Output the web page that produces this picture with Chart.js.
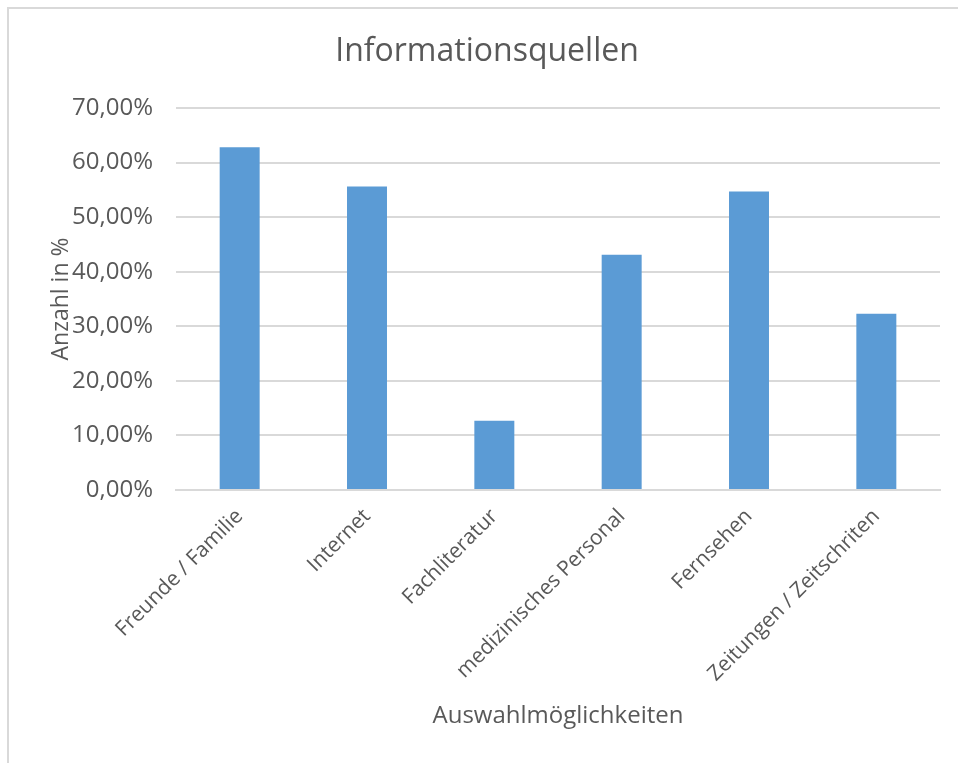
<!DOCTYPE html>
<html lang="de">
<head>
<meta charset="utf-8">
<title>Informationsquellen</title>
<script src="https://cdn.jsdelivr.net/npm/chart.js@4/dist/chart.umd.min.js"></script>
<style>
  html, body { margin: 0; padding: 0; background: #ffffff; }
  body { width: 958px; height: 763px; position: relative; overflow: hidden; }
  #frame {
    position: absolute; left: 7px; top: 7px;
    width: 949px; height: 754px;
    border-left: 2px solid #d9d9d9; border-top: 2px solid #d9d9d9;
  }
  canvas { display: block; }
</style>
</head>
<body>
<div id="frame"><canvas id="chart" width="949" height="754"></canvas></div>
<script>
// Antworten je Informationsquelle (Anteil in %)
const categories = [
  'Freunde / Familie',
  'Internet',
  'Fachliteratur',
  'medizinisches Personal',
  'Fernsehen',
  'Zeitungen / Zeitschriten'
];
const shares = [62.8, 55.6, 12.7, 43.1, 54.7, 32.3];
const yTicks = [0, 10, 20, 30, 40, 50, 60, 70];

const chartTitle = 'Informationsquellen';
const xTitle = 'Auswahlmöglichkeiten';
const yTitle = 'Anzahl in %';

const textColor = '#595959';
const gridColor = '#d9d9d9';
const barColor = '#5b9bd5';
const fontFamily = "'Open Sans', 'Noto Sans', sans-serif";

const fmtPercent = v => v.toFixed(2).replace('.', ',') + '%';

new Chart(document.getElementById('chart'), {
  type: 'bar',
  data: {
    labels: categories,
    datasets: [{
      label: yTitle,
      data: shares,
      backgroundColor: barColor,
      borderWidth: 0,
      barPercentage: 0.314,
      categoryPercentage: 1.0
    }]
  },
  options: {
    responsive: false,
    animation: false,
    layout: { padding: { left: 25, right: 18, top: 0, bottom: 32 } },
    plugins: {
      legend: { display: false },
      tooltip: { enabled: false },
      title: {
        display: true,
        text: chartTitle,
        color: textColor,
        font: { family: fontFamily, size: 32, weight: 'normal' },
        padding: { top: 24, bottom: 36.6 }
      }
    },
    scales: {
      x: {
        grid: { display: false, drawTicks: false },
        border: { display: true, color: gridColor, width: 2 },
        ticks: {
          color: textColor,
          font: { family: fontFamily, size: 21 },
          minRotation: 45,
          maxRotation: 45,
          padding: 14,
          autoSkip: false
        },
        title: {
          display: true,
          text: xTitle,
          color: textColor,
          font: { family: fontFamily, size: 24 },
          padding: 0
        },
        afterFit: s => { s.height = 241; }
      },
      y: {
        min: 0,
        max: 70,
        afterBuildTicks: s => { s.ticks = yTicks.map(v => ({ value: v })); },
        grid: { color: gridColor, lineWidth: 2, drawTicks: false },
        border: { display: false },
        ticks: {
          color: textColor,
          font: { family: fontFamily, size: 24 },
          padding: 23,
          callback: v => fmtPercent(v)
        },
        title: {
          display: true,
          text: yTitle,
          color: textColor,
          font: { family: fontFamily, size: 23 },
          padding: { top: 14, bottom: 0 }
        },
        afterFit: s => { s.width = 142; }
      }
    }
  }
});
</script>
</body>
</html>
